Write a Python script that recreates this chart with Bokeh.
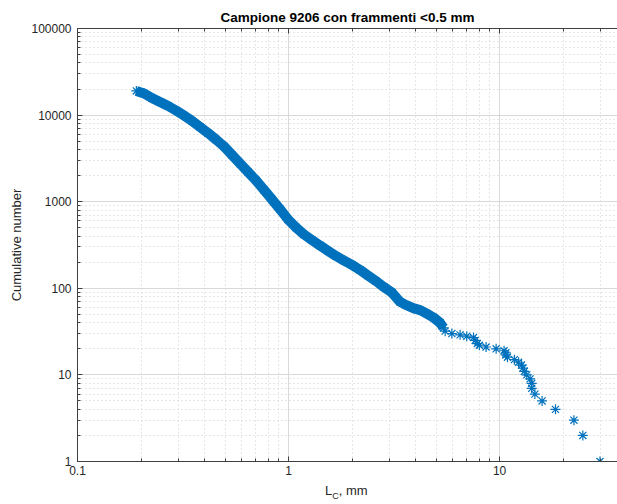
from bokeh.plotting import figure
from bokeh.models import LogAxis, LogTicker, CustomJSTickFormatter, Range1d, Div
from bokeh.layouts import column
from bokeh.embed import file_html
from bokeh.resources import INLINE

# Fragment length L_C (mm) and cumulative number
length_mm = [0.19, 0.207, 0.225, 0.246, 0.269, 0.293, 0.320, 0.349, 0.381, 0.415,
             0.453, 0.495, 0.540, 0.589, 0.643, 0.702, 0.766, 0.835, 0.911, 0.995,
             1.085, 1.184, 1.292, 1.410, 1.539, 1.679, 1.832, 2.00, 2.183, 2.381,
             2.599, 2.836, 3.094, 3.37, 3.56, 3.9, 4.2, 4.52, 4.86, 5.22,
             5.42, 5.52, 5.94, 6.5, 6.99, 7.52, 7.66, 7.85, 8.02, 8.63,
             9.63, 10.5, 10.7, 10.7, 10.9, 11.75, 12.3, 12.7, 12.9, 13.1,
             13.45, 13.95, 14.2, 14.2, 14.7, 15.9, 18.4, 22.5, 24.8, 29.9]
cum_number = [19000, 17760, 15760, 14170, 12740, 11300, 9890, 8550, 7290, 6215,
              5226, 4339, 3462, 2761, 2203, 1757, 1365, 1060, 819, 623,
              504, 418, 361, 312, 270, 236, 209, 186, 163, 140,
              121, 103, 89, 70, 65, 59, 56, 51, 46, 40,
              35, 32, 30, 29, 28, 27, 25, 23, 22, 21,
              20, 19, 18, 17, 16, 15, 14, 13, 12, 11,
              10, 9, 8, 7, 6, 5, 4, 3, 2, 1]

x_ticks = [0.1, 1, 10]
y_ticks = [1, 10, 100, 1000, 10000, 100000]

title_text = "Campione 9206 con frammenti <0.5 mm"
ylabel_text = "Cumulative number"
xlabel_main, xlabel_sub, xlabel_tail = "L", "C", ", mm"

BLUE = "#0072BD"
AX = "#404040"
FONT = "Liberation Sans"

p = figure(width=617, height=482, x_axis_type="log", y_axis_type="log",
           x_range=Range1d(0.1, 36.2), y_range=Range1d(1, 100000),
           output_backend="svg", toolbar_location=None,
           min_border_left=77, min_border_right=0, min_border_top=28,
           min_border_bottom=21)
p.outline_line_color = None
p.background_fill_color = "white"
p.border_fill_color = "white"

p.title.text = title_text
p.title.align = "center"
p.title.offset = 4
p.title.text_font = FONT
p.title.text_font_size = "13.5px"
p.title.text_font_style = "bold"
p.title.text_color = "black"
p.title.standoff = 8

fmt = CustomJSTickFormatter(code="return Number(tick.toPrecision(6)).toString();")
for ax in (p.xaxis[0], p.yaxis[0]):
    ax.formatter = fmt
    ax.major_tick_in = 5
    ax.major_tick_out = 0
    ax.minor_tick_in = 3
    ax.minor_tick_out = 0
    ax.axis_line_color = AX
    ax.major_tick_line_color = AX
    ax.minor_tick_line_color = AX
    ax.major_label_text_font = FONT
    ax.major_label_text_font_size = "12px"
    ax.major_label_text_color = "#262626"
p.xaxis.ticker = LogTicker(num_minor_ticks=10, desired_num_ticks=3)
p.yaxis.ticker = LogTicker(num_minor_ticks=10, desired_num_ticks=6)
p.xaxis.major_label_standoff = 4
p.yaxis.major_label_standoff = 6

p.yaxis.axis_label = ylabel_text
p.yaxis.axis_label_text_font = FONT
p.yaxis.axis_label_text_font_size = "13px"
p.yaxis.axis_label_text_font_style = "normal"
p.yaxis.axis_label_text_color = "#262626"
p.yaxis.axis_label_standoff = 4

top = LogAxis(ticker=LogTicker(num_minor_ticks=10, desired_num_ticks=3),
              formatter=fmt, major_label_text_font_size="1px",
              major_label_text_alpha=0, major_label_standoff=0,
              major_tick_in=5, major_tick_out=0,
              minor_tick_in=3, minor_tick_out=0, axis_line_color=AX,
              major_tick_line_color=AX, minor_tick_line_color=AX)
p.add_layout(top, "above")

for g in (p.xgrid[0], p.ygrid[0]):
    g.grid_line_color = "#d9d9d9"
    g.grid_line_width = 1
    g.minor_grid_line_color = "#cfcfcf"
    g.minor_grid_line_dash = "1 3"
    g.minor_grid_line_width = 1

band_x = [x for x in length_mm if x <= 5.5]
band_y = cum_number[:len(band_x)]
p.line(band_x, band_y, line_color=BLUE, line_width=10)
p.scatter(length_mm, cum_number, marker="asterisk", size=10, line_color=BLUE, line_width=1.2)

xlabel_html = (
    '<div style="font-family:\'Liberation Sans\',sans-serif;font-size:13px;color:#262626;'
    'line-height:15px;padding-left:325px;padding-top:1px;white-space:nowrap;">'
    + xlabel_main
    + '<sub style="font-size:9px;vertical-align:-4px;line-height:0;">' + xlabel_sub + '</sub>'
    + xlabel_tail + '</div>'
)
xlabel_div = Div(text=xlabel_html, width=617, height=22, margin=0)

layout = column(p, xlabel_div, spacing=0)

open("out.html", "w").write(file_html(layout, INLINE))
